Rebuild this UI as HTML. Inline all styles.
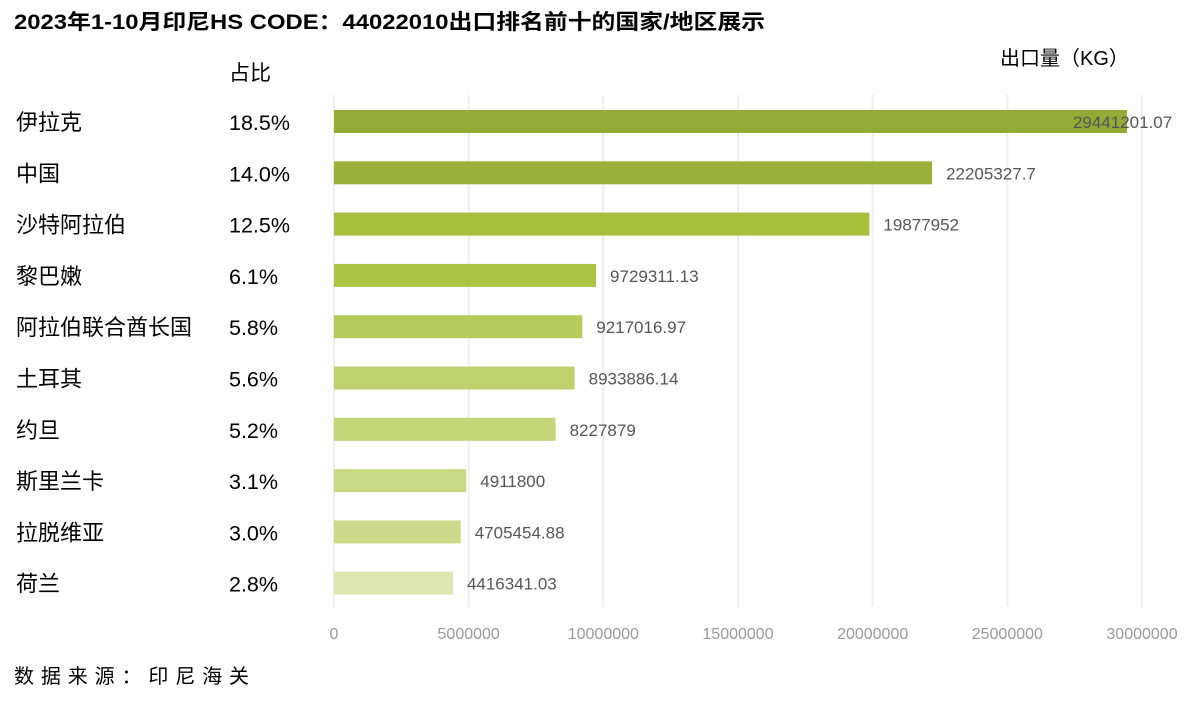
<!DOCTYPE html>
<html><head><meta charset="utf-8"><style>
body{margin:0;background:#fff;}
svg text{font-family:"Liberation Sans","Noto Sans CJK SC",sans-serif;}
</style></head><body>
<svg id="chart" width="1186" height="697" viewBox="0 0 1186 697">
<text x="14" y="29" font-size="21" font-weight="bold" fill="#000" textLength="751" lengthAdjust="spacingAndGlyphs">2023年1-10月印尼HS CODE：44022010出口排名前十的国家/地区展示</text>
<text x="229" y="80" font-size="21" fill="#000">占比</text>
<text x="1000" y="65" font-size="20" fill="#000">出口量（KG）</text>
<g id="grid"></g><g id="bars"></g>
<text x="14" y="683" font-size="20" fill="#000" textLength="235" lengthAdjust="spacing">数据来源：印尼海关</text>
</svg>
<script>
const categories=["伊拉克","中国","沙特阿拉伯","黎巴嫩","阿拉伯联合酋长国","土耳其","约旦","斯里兰卡","拉脱维亚","荷兰"];
const shares=["18.5%","14.0%","12.5%","6.1%","5.8%","5.6%","5.2%","3.1%","3.0%","2.8%"];
const values=[29441201.07,22205327.7,19877952,9729311.13,9217016.97,8933886.14,8227879,4911800,4705454.88,4416341.03];
const valueLabels=["29441201.07","22205327.7","19877952","9729311.13","9217016.97","8933886.14","8227879","4911800","4705454.88","4416341.03"];
const ticks=[0,5000000,10000000,15000000,20000000,25000000,30000000];
const colors=["#93aa35","#9ab039","#a6be3c","#abc443","#b5cb5b","#bfd16d","#c4d57a","#c8d884","#cbd988","#dce6ae"];
const NS="http://www.w3.org/2000/svg";
const x=v=>334+v/30000000*808;
const y=i=>110+i*51.3;
function mk(t,a,p){const e=document.createElementNS(NS,t);for(const k in a)e.setAttribute(k,a[k]);p.appendChild(e);return e;}
const g=document.getElementById('grid'),b=document.getElementById('bars');
ticks.forEach(t=>{
 const l=mk('line',{x1:x(t),x2:x(t),y1:95,y2:607,stroke:'#eeeeee','stroke-width':2},g);
 
 
 const tx=mk('text',{x:x(t),y:639,'font-size':16,fill:'#999','text-anchor':'middle'},g);
 tx.textContent=t;
 
 
});
values.forEach((v,i)=>{
 const r=mk('rect',{x:334,y:y(i),width:x(v)-334,height:23,fill:colors[i]},b);
 
 
 const c=mk('text',{x:16,y:y(i)+20,'font-size':22,fill:'#000'},b);
 c.textContent=categories[i];
 
 
 const s=mk('text',{x:229,y:y(i)+20,'font-size':21.5,fill:'#000'},b);
 s.textContent=shares[i];
 
 
 const vl=mk('text',{x:x(v)+(i==0?-54:14),y:y(i)+18,'font-size':17,fill:'#555'},b);
 vl.textContent=valueLabels[i];
 
 
});
</script>
</body></html>
